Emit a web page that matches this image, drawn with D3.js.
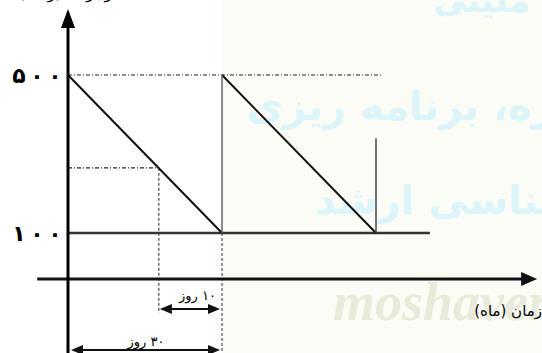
<!DOCTYPE html>
<html><head><meta charset="utf-8">
<script src="https://cdn.jsdelivr.net/npm/d3@7"></script>
<style>html,body{margin:0;padding:0;background:#fff;overflow:hidden}</style>
</head><body>
<script>
// ---- data ----
const sawDays   = [0, 30];          // first cycle: start, end
const sawStock  = [500, 100];
const cycle2Days  = [30, 60];
const cycle2Stock = [500, 100];
const maxStock = 500;
const safetyStock = 100;
const reorderDay = 17.7;
const reorderLevel = 265;
const orderDay2 = 60, orderTop2 = 340;
const safetyEndDay = 70.5;
const maxDashEndDay = 61;
const yTickValues = [500, 100];
const yTickLabels = ["۵۰۰", "۱۰۰"];
const leadLabel = "۱۰ روز";
const cycleLabel = "۳۰ روز";
const xAxisTitle = "زمان (ماه)";
const xAxisLevel = -16.5;
const xAxisRange = [-6, 91];

const W = 542, H = 353;
const svg = d3.select("body").append("svg").attr("width", W).attr("height", H);
const x = d3.scaleLinear().domain([0, 30]).range([68, 222]);
const y = d3.scaleLinear().domain([100, 500]).range([233, 75]);

// background tint
svg.append("rect").attr("x", x(30)).attr("y", 0).attr("width", W - x(30)).attr("height", H).attr("fill", "#fbfcf6");

// watermarks
const wm = svg.append("g").attr("font-family", "DejaVu Sans").attr("font-weight", "bold").attr("fill", "#dcf5fb");
wm.append("text").attr("x", 530).attr("y", 12).attr("text-anchor", "end").attr("font-size", 34).text("ملیتی");
wm.append("text").attr("x", 600).attr("y", 120).attr("text-anchor", "end").attr("font-size", 40).text("دوره، برنامه ریزی");
wm.append("text").attr("x", 640).attr("y", 214).attr("text-anchor", "end").attr("font-size", 40).text("کارشناسی ارشد");
svg.append("text").attr("x", 333).attr("y", 320).attr("font-family", "Liberation Serif").attr("font-style", "italic").attr("font-weight", "bold").attr("font-size", 54).attr("fill", "#e7ebda").text("moshaver");

const dash = "4,2,1,2";
// dashed guides
svg.append("line").attr("x1", x(0)).attr("x2", x(maxDashEndDay)).attr("y1", y(maxStock)).attr("y2", y(maxStock))
  .attr("stroke", "#222").attr("stroke-width", 1.2).attr("stroke-dasharray", dash);
svg.append("line").attr("x1", x(0)).attr("x2", x(reorderDay)).attr("y1", y(reorderLevel)).attr("y2", y(reorderLevel))
  .attr("stroke", "#222").attr("stroke-width", 1.2).attr("stroke-dasharray", dash);
svg.append("line").attr("x1", x(reorderDay)).attr("x2", x(reorderDay)).attr("y1", y(reorderLevel)).attr("y2", 313)
  .attr("stroke", "#222").attr("stroke-width", 1).attr("stroke-dasharray", "3,2");
svg.append("line").attr("x1", x(30)).attr("x2", x(30)).attr("y1", y(safetyStock)).attr("y2", H)
  .attr("stroke", "#333").attr("stroke-width", 1).attr("stroke-dasharray", "3,2");

// safety stock line
svg.append("line").attr("x1", x(0)).attr("x2", x(safetyEndDay)).attr("y1", y(safetyStock)).attr("y2", y(safetyStock))
  .attr("stroke", "#333").attr("stroke-width", 2.5);

// sawtooth
const line = d3.line().x(d => x(d[0])).y(d => y(d[1]));
svg.append("path").attr("d", line(d3.zip(sawDays, sawStock))).attr("fill", "none").attr("stroke", "#111").attr("stroke-width", 2);
svg.append("path").attr("d", line(d3.zip(cycle2Days, cycle2Stock))).attr("fill", "none").attr("stroke", "#111").attr("stroke-width", 2);
// replenishment verticals
svg.append("line").attr("x1", x(30)).attr("x2", x(30)).attr("y1", y(safetyStock)).attr("y2", y(maxStock))
  .attr("stroke", "#666").attr("stroke-width", 1.5);
svg.append("line").attr("x1", x(orderDay2)).attr("x2", x(orderDay2)).attr("y1", y(safetyStock)).attr("y2", y(orderTop2))
  .attr("stroke", "#444").attr("stroke-width", 1.5);

// axes
const axY = y(xAxisLevel);
svg.append("line").attr("x1", x(xAxisRange[0])).attr("x2", x(xAxisRange[1]) - 8).attr("y1", axY).attr("y2", axY)
  .attr("stroke", "#111").attr("stroke-width", 3);
svg.append("path").attr("d", `M${x(xAxisRange[1])+2},${axY} L${x(xAxisRange[1])-14},${axY-7} L${x(xAxisRange[1])-14},${axY+7} Z`).attr("fill", "#111");
svg.append("line").attr("x1", x(0)).attr("x2", x(0)).attr("y1", 24).attr("y2", H)
  .attr("stroke", "#000").attr("stroke-width", 3);
svg.append("path").attr("d", `M${x(0)},9 L${x(0)-7},28 L${x(0)+7},28 Z`).attr("fill", "#000");

// y tick labels (digits spaced individually)
yTickValues.forEach((v, i) => {
  const t = svg.append("text").attr("y", y(v) + 8)
    .attr("font-family", "DejaVu Sans").attr("font-size", 22).attr("font-weight", "bold").attr("fill", "#000");
  Array.from(yTickLabels[i]).forEach((ch, j) => {
    t.append("tspan").attr("x", 19 + j * 18).attr("text-anchor", "middle").text(ch);
  });
});

// dimension arrows
function dimArrow(x1, x2, yy) {
  svg.append("line").attr("x1", x1 + 6).attr("x2", x2 - 6).attr("y1", yy).attr("y2", yy).attr("stroke", "#111").attr("stroke-width", 2);
  svg.append("path").attr("d", `M${x1},${yy} L${x1+12},${yy-5} L${x1+12},${yy+5} Z`).attr("fill", "#111");
  svg.append("path").attr("d", `M${x2},${yy} L${x2-12},${yy-5} L${x2-12},${yy+5} Z`).attr("fill", "#111");
}
dimArrow(x(reorderDay) + 1, x(30) - 2, 309);
dimArrow(x(0) + 3, x(30) - 2, 350);
svg.append("text").attr("x", (x(reorderDay) + x(30)) / 2 + 7).attr("y", 300).attr("text-anchor", "middle")
  .attr("font-family", "DejaVu Sans").attr("font-size", 13).attr("direction", "rtl").attr("fill", "#000").text(leadLabel);
svg.append("text").attr("x", 146).attr("y", 346).attr("text-anchor", "middle")
  .attr("font-family", "DejaVu Sans").attr("font-size", 13).attr("direction", "rtl").attr("fill", "#000").text(cycleLabel);

// x axis title
svg.append("text").attr("x", 542).attr("y", 316).attr("text-anchor", "start").attr("direction", "rtl")
  .attr("font-family", "DejaVu Sans").attr("font-size", 15).attr("fill", "#000").text(xAxisTitle);

// cropped y title at top
svg.append("text").attr("x", 70).attr("y", -2).attr("text-anchor", "middle").attr("direction", "rtl")
  .attr("font-family", "DejaVu Sans").attr("font-size", 16).attr("fill", "#000").text("موجودی (واحد)");
</script>
</body></html>
